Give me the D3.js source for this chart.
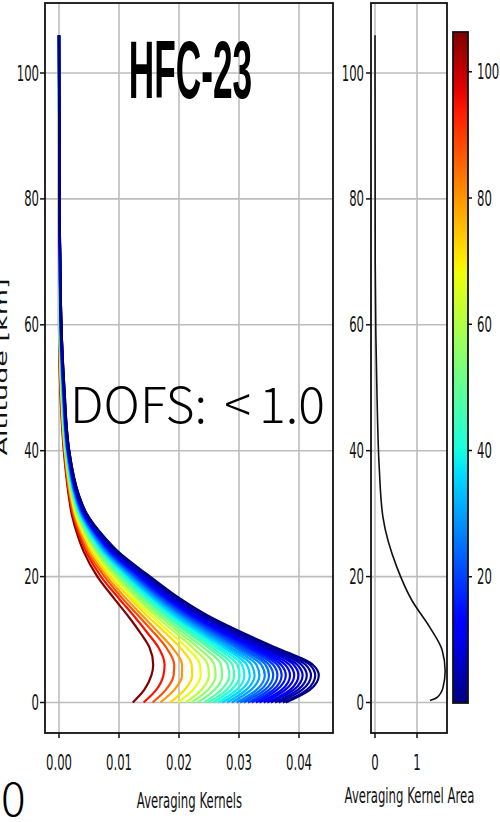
<!DOCTYPE html>
<html>
<head>
<meta charset="utf-8">
<script src="https://cdn.jsdelivr.net/npm/d3@7"></script>
<style>
  html, body { margin: 0; padding: 0; background: #fff; }
  svg { display: block; }
</style>
</head>
<body>
<div id="chart"></div>
<script>
const altRows = [0, 2, 4.3, 6, 8.7, 11, 13.5, 16.5, 20, 24, 26, 30, 33, 40, 50, 60, 80, 106];

// altitude of the retrieval level each kernel belongs to (drives the colour), inner/red -> outer/blue
const levelAlts = [106, 95, 88, 80, 72, 67, 61, 56, 52, 48, 45, 42, 39, 36, 33, 30, 27, 24.5, 22, 19.5, 17, 15, 13, 11, 9, 7, 5, 3.5, 2, 0.5];

// averaging kernel values (x 1e-4) per altitude row, one entry per curve
const akRows = [
  [123, 141, 156, 169, 185, 198, 211, 221, 231, 242, 249, 257, 265, 272, 280, 288, 296, 302, 308, 315, 321, 328, 334, 341, 347, 353, 360, 366, 373, 378],
  [142, 162, 178, 192, 209, 223, 237, 248, 259, 270, 279, 287, 296, 304, 312, 320, 329, 336, 343, 350, 357, 363, 371, 377, 385, 391, 398, 405, 413, 418],
  [154, 174, 191, 205, 222, 236, 250, 261, 272, 284, 292, 301, 309, 318, 326, 334, 343, 350, 357, 364, 371, 378, 385, 392, 399, 406, 413, 420, 427, 433],
  [157, 176, 192, 205, 221, 235, 248, 259, 270, 281, 289, 297, 305, 313, 321, 329, 337, 344, 350, 357, 364, 370, 377, 384, 391, 397, 404, 411, 418, 423],
  [151, 166, 179, 189, 202, 213, 223, 232, 241, 249, 255, 262, 268, 275, 281, 287, 294, 299, 304, 310, 315, 320, 326, 331, 337, 342, 347, 352, 358, 362],
  [136, 148, 159, 167, 178, 186, 195, 202, 209, 216, 221, 226, 232, 237, 242, 247, 252, 257, 261, 265, 270, 274, 278, 283, 287, 291, 296, 300, 305, 308],
  [117, 127, 135, 142, 150, 157, 164, 170, 175, 181, 185, 189, 193, 197, 201, 206, 210, 213, 217, 220, 224, 227, 230, 234, 237, 241, 244, 248, 251, 254],
  [92, 100, 106, 112, 119, 124, 130, 134, 139, 143, 147, 150, 153, 157, 160, 163, 167, 169, 172, 175, 178, 180, 183, 186, 189, 191, 194, 197, 200, 202],
  [64, 70, 76, 80, 85, 90, 94, 98, 101, 105, 108, 110, 113, 116, 118, 121, 124, 126, 128, 130, 133, 135, 137, 139, 141, 144, 146, 148, 150, 152],
  [41, 45, 48, 51, 55, 58, 61, 63, 65, 68, 69, 71, 73, 74, 76, 78, 80, 81, 82, 84, 85, 87, 88, 90, 91, 93, 94, 95, 97, 98],
  [33, 36, 39, 41, 44, 46, 48, 50, 52, 54, 55, 57, 58, 59, 61, 62, 63, 65, 66, 67, 68, 69, 70, 71, 73, 74, 75, 76, 77, 78],
  [21, 23, 24, 26, 27, 28, 30, 31, 32, 33, 33, 34, 35, 36, 36, 37, 38, 39, 39, 40, 41, 41, 42, 42, 43, 44, 44, 45, 46, 46],
  [16, 17, 18, 19, 20, 21, 22, 22, 23, 24, 24, 25, 25, 26, 26, 27, 27, 28, 28, 29, 29, 30, 30, 30, 31, 31, 32, 32, 33, 33],
  [8, 9, 9, 10, 10, 11, 11, 11, 12, 12, 12, 13, 13, 13, 14, 14, 14, 14, 15, 15, 15, 15, 15, 16, 16, 16, 16, 17, 17, 17],
  [2, 2.5, 3, 3, 4, 4, 4, 5, 5, 5, 5.5, 6, 6, 6, 6, 6.5, 7, 7, 7, 7, 7.5, 7.5, 8, 8, 8, 8, 8.5, 8.5, 9, 9],
  [0, 0, 0.5, 0.5, 1, 1, 1, 1.5, 1.5, 1.5, 2, 2, 2, 2, 2.5, 2.5, 2.5, 3, 3, 3, 3, 3, 3.5, 3.5, 3.5, 3.5, 4, 4, 4, 4],
  [0, 0, 0, 0, 0, 0, 0, 0, 0, 0, 0.5, 0.5, 0.5, 0.5, 0.5, 0.5, 0.5, 0.5, 0.5, 0.5, 1, 1, 1, 1, 1, 1, 1, 1, 1, 1],
  [0, 0, 0, 0, 0, 0, 0, 0, 0, 0, 0, 0, 0, 0, 0, 0, 0, 0, 0, 0, 0, 0, 0, 0, 0, 0, 0, 0, 0, 0]
];

// averaging kernel area profile (right panel)
const areaAlts = [0.3, 0.8, 2.4, 5, 8.3, 11.9, 16.2, 21.5, 29.4, 37.4, 48, 58.6, 70, 106];
const areaVals = [1.31, 1.48, 1.62, 1.67, 1.6, 1.31, 0.88, 0.52, 0.19, 0.10, 0.05, 0.02, 0.005, 0.0];

// tick values
const akTicks = [0, 0.01, 0.02, 0.03, 0.04];
const altTicks = [0, 20, 40, 60, 80, 100];
const areaTicks = [0, 1];
const cbarTicks = [20, 40, 60, 80, 100];

const title = "HFC-23";

const width = 500, height = 822;
const tickFont = "DejaVu Sans, sans-serif";
const tickSize = 20.5;
const squeeze = 0.57; // the figure is squashed horizontally

// jet colour map (matplotlib segment data)
const jetR = d3.scaleLinear().domain([0, 0.35, 0.66, 0.89, 1]).range([0, 0, 1, 1, 0.5]).clamp(true);
const jetG = d3.scaleLinear().domain([0, 0.125, 0.375, 0.64, 0.91, 1]).range([0, 0, 1, 1, 0, 0]).clamp(true);
const jetB = d3.scaleLinear().domain([0, 0.11, 0.34, 0.65, 1]).range([0.5, 1, 1, 0, 0]).clamp(true);
const jet = t => d3.rgb(255 * jetR(t), 255 * jetG(t), 255 * jetB(t)).formatHex();

const svg = d3.select("#chart").append("svg")
    .attr("width", width)
    .attr("height", height);

// --- scales ---
const frameTop = 3, frameBottom = 733;
const yScale = d3.scaleLinear().domain([0, 100]).range([702.5, 73]);
const xAK = d3.scaleLinear().domain([0, 0.04]).range([59, 299]);
const xArea = d3.scaleLinear().domain([0, 1]).range([375, 417]);
const cbarScale = d3.scaleLinear().domain([0, 106.3]).range([703, 32]);
const colorScale = d3.scaleLinear().domain([0, 106.3]).range([0, 1]);

const left = { x0: 45, x1: 333 };
const right = { x0: 371, x1: 447 };
const cbar = { x0: 453, x1: 468 };

function squashedText(parent, x, y, str, anchor, size, sx, family) {
    return parent.append("text")
        .attr("transform", `translate(${x},${y}) scale(${sx},1)`)
        .attr("text-anchor", anchor)
        .style("font-family", family || tickFont)
        .style("font-size", size + "px")
        .attr("fill", "#111")
        .text(str);
}

// clip paths
const defs = svg.append("defs");
defs.append("clipPath").attr("id", "clip-left").append("rect")
    .attr("x", left.x0).attr("y", frameTop).attr("width", left.x1 - left.x0).attr("height", frameBottom - frameTop);
defs.append("clipPath").attr("id", "clip-right").append("rect")
    .attr("x", right.x0).attr("y", frameTop).attr("width", right.x1 - right.x0).attr("height", frameBottom - frameTop);

// ---------- left panel ----------
const gl = svg.append("g");

// grid
gl.selectAll(".vgrid").data(akTicks).enter().append("line")
    .attr("x1", d => xAK(d)).attr("x2", d => xAK(d))
    .attr("y1", frameTop).attr("y2", frameBottom)
    .attr("stroke", "#bdbdbd").attr("stroke-width", 1.6);
gl.selectAll(".hgrid").data(altTicks).enter().append("line")
    .attr("x1", left.x0).attr("x2", left.x1)
    .attr("y1", d => yScale(d)).attr("y2", d => yScale(d))
    .attr("stroke", "#bdbdbd").attr("stroke-width", 1.6);

// kernel curves, red (high levels) first so blue ends on top
const curveGen = d3.line()
    .x(d => xAK(d[0]))
    .y(d => yScale(d[1]))
    .curve(d3.curveMonotoneY);

const curves = levelAlts.map((lev, j) => ({
    level: lev,
    // top -> bottom so the pixel y grows along the path
    points: altRows.map((a, i) => [akRows[i][j] * 1e-4, a]).reverse()
}));

gl.append("g").attr("clip-path", "url(#clip-left)")
    .selectAll("path").data(curves).enter().append("path")
    .attr("d", d => curveGen(d.points))
    .attr("fill", "none")
    .attr("stroke", d => jet(colorScale(d.level)))
    .attr("stroke-width", 2.2);

// frame
gl.append("rect")
    .attr("x", left.x0).attr("y", frameTop)
    .attr("width", left.x1 - left.x0).attr("height", frameBottom - frameTop)
    .attr("fill", "none").attr("stroke", "#111").attr("stroke-width", 1.8);

// ticks
gl.selectAll(".ytick").data(altTicks).enter().append("line")
    .attr("x1", left.x0 - 5).attr("x2", left.x0)
    .attr("y1", d => yScale(d)).attr("y2", d => yScale(d))
    .attr("stroke", "#111").attr("stroke-width", 1.5);
altTicks.forEach(t => squashedText(gl, left.x0 - 6, yScale(t) + 7.5, t, "end", tickSize, squeeze));

gl.selectAll(".xtick").data(akTicks).enter().append("line")
    .attr("x1", d => xAK(d)).attr("x2", d => xAK(d))
    .attr("y1", frameBottom).attr("y2", frameBottom + 5)
    .attr("stroke", "#111").attr("stroke-width", 1.5);
akTicks.forEach(t => squashedText(gl, xAK(t), 769.5, d3.format(".2f")(t), "middle", tickSize, squeeze));

squashedText(gl, 189.5, 808, "Averaging Kernels", "middle", tickSize, squeeze);

// y label (rotated, partly outside the picture as in the original)
gl.append("text")
    .attr("transform", `translate(7,367) scale(${squeeze},1) rotate(-90)`)
    .attr("text-anchor", "middle")
    .style("font-family", tickFont)
    .style("font-size", "27px")
    .attr("fill", "#111")
    .text("Altitude [km]");

// title
squashedText(gl, 190.5, 98, title, "middle", 81, 0.435, "Liberation Sans, Arial, sans-serif")
    .style("font-weight", "bold").attr("fill", "#000");

// ---------- right panel ----------
const gr = svg.append("g");

gr.selectAll(".vgrid").data(areaTicks).enter().append("line")
    .attr("x1", d => xArea(d)).attr("x2", d => xArea(d))
    .attr("y1", frameTop).attr("y2", frameBottom)
    .attr("stroke", "#bdbdbd").attr("stroke-width", 1.6);
gr.selectAll(".hgrid").data(altTicks).enter().append("line")
    .attr("x1", right.x0).attr("x2", right.x1)
    .attr("y1", d => yScale(d)).attr("y2", d => yScale(d))
    .attr("stroke", "#bdbdbd").attr("stroke-width", 1.6);

const areaLine = d3.line()
    .x(d => xArea(d[0]))
    .y(d => yScale(d[1]))
    .curve(d3.curveMonotoneY);

gr.append("path")
    .attr("clip-path", "url(#clip-right)")
    .attr("d", areaLine(areaVals.map((v, i) => [v, areaAlts[i]]).reverse()))
    .attr("fill", "none")
    .attr("stroke", "#111")
    .attr("stroke-width", 1.6);

gr.append("rect")
    .attr("x", right.x0).attr("y", frameTop)
    .attr("width", right.x1 - right.x0).attr("height", frameBottom - frameTop)
    .attr("fill", "none").attr("stroke", "#111").attr("stroke-width", 1.8);

gr.selectAll(".ytick").data(altTicks).enter().append("line")
    .attr("x1", right.x0 - 5).attr("x2", right.x0)
    .attr("y1", d => yScale(d)).attr("y2", d => yScale(d))
    .attr("stroke", "#111").attr("stroke-width", 1.5);
altTicks.forEach(t => squashedText(gr, right.x0 - 7, yScale(t) + 7.5, t, "end", tickSize, squeeze));

gr.selectAll(".xtick").data(areaTicks).enter().append("line")
    .attr("x1", d => xArea(d)).attr("x2", d => xArea(d))
    .attr("y1", frameBottom).attr("y2", frameBottom + 5)
    .attr("stroke", "#111").attr("stroke-width", 1.5);
areaTicks.forEach(t => squashedText(gr, xArea(t), 769.5, t, "middle", tickSize, squeeze));

squashedText(gr, 409.5, 803, "Averaging Kernel Area", "middle", tickSize, squeeze);

// ---------- colour bar ----------
const grad = defs.append("linearGradient").attr("id", "jet-grad")
    .attr("x1", 0).attr("y1", 1).attr("x2", 0).attr("y2", 0);
d3.range(0, 1.0001, 0.02).forEach(t => {
    grad.append("stop").attr("offset", t).attr("stop-color", jet(t));
});

const gc = svg.append("g");
gc.append("rect")
    .attr("x", cbar.x0).attr("y", cbarScale(106.3))
    .attr("width", cbar.x1 - cbar.x0).attr("height", cbarScale(0) - cbarScale(106.3))
    .attr("fill", "url(#jet-grad)")
    .attr("stroke", "#111").attr("stroke-width", 1.8);

gc.selectAll(".ctick").data(cbarTicks).enter().append("line")
    .attr("x1", cbar.x1).attr("x2", cbar.x1 + 4)
    .attr("y1", d => cbarScale(d)).attr("y2", d => cbarScale(d))
    .attr("stroke", "#111").attr("stroke-width", 1.5);
cbarTicks.forEach(t => squashedText(gc, cbar.x1 + 9, cbarScale(t) + 7.5, t, "start", tickSize, squeeze));

// ---------- overlay text ----------
const dofs = svg.append("text")
    .attr("x", 70).attr("y", 423)
    .style("font-family", "'Noto Sans CJK JP', 'Noto Sans', sans-serif")
    .style("font-size", "50px")
    .style("font-weight", 300)
    .attr("fill", "#000");
dofs.append("tspan").text("DOFS: ");
dofs.append("tspan").attr("dx", 6).text("<");
dofs.append("tspan").attr("dx", 8).text("1.0");

svg.append("text")
    .attr("x", 1).attr("y", 816)
    .style("font-family", "'Noto Sans CJK JP', 'Noto Sans', sans-serif")
    .style("font-size", "46px")
    .style("font-weight", 300)
    .attr("fill", "#000")
    .text("0");
</script>
</body>
</html>
